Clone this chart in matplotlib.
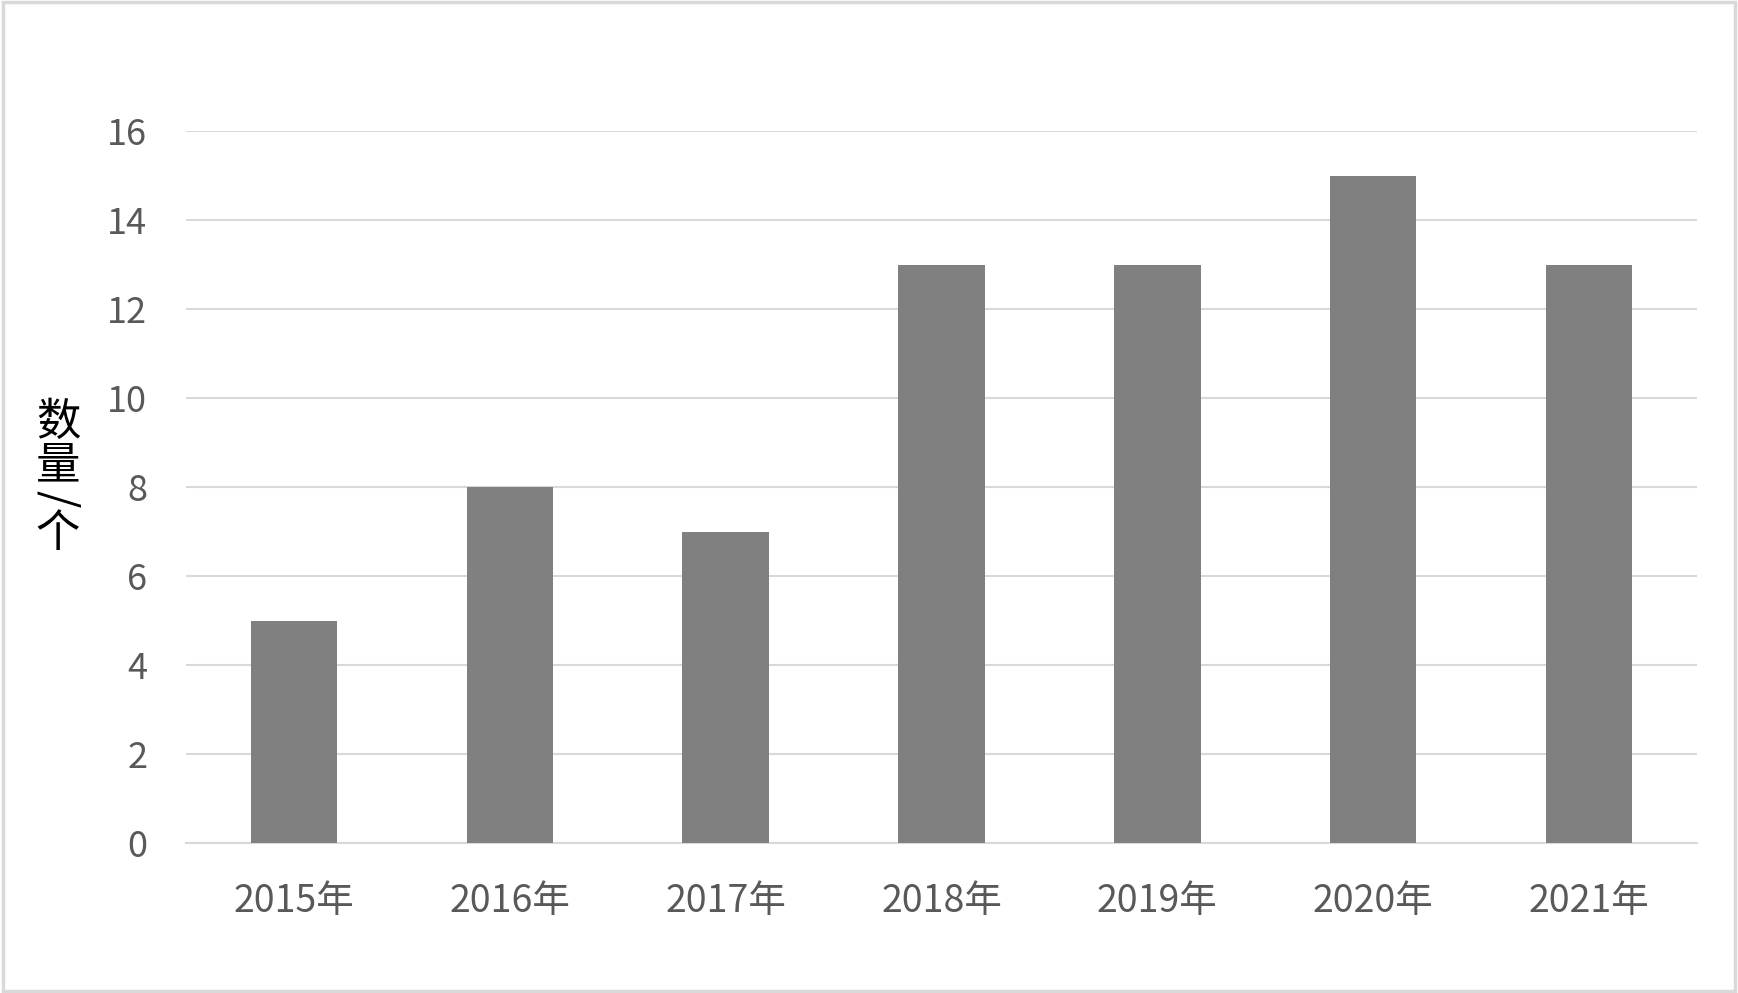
import matplotlib.pyplot as plt
from matplotlib.patches import Rectangle

plt.rcParams['font.family'] = ['Noto Sans CJK SC', 'DejaVu Sans']

years = ['2015年', '2016年', '2017年', '2018年', '2019年', '2020年', '2021年']
counts = [5, 8, 7, 13, 13, 15, 13]
yticks = [0, 2, 4, 6, 8, 10, 12, 14, 16]

fig = plt.figure(figsize=(17.38, 9.93), dpi=100)
ax = fig.add_axes([186 / 1738, 1 - 843 / 993, (1697 - 186) / 1738, (843 - 131) / 993])

x = range(len(years))
ax.bar(x, counts, width=0.4, color='#808080', zorder=3)

ax.set_xlim(-0.5, len(years) - 0.5)
ax.set_ylim(0, 16)
ax.set_yticks(yticks)
ax.set_xticks(list(x))
ax.set_xticklabels(years, fontsize=27)
ax.grid(True, axis='y', color='#d9d9d9', linewidth=1.5, zorder=0)
for s in ['top', 'right', 'left']:
    ax.spines[s].set_visible(False)
ax.spines['bottom'].set_color('#d9d9d9')
ax.spines['bottom'].set_linewidth(1.5)
ax.tick_params(axis='both', length=0, labelcolor='#595959')
ax.tick_params(axis='y', pad=28, labelsize=26)
ax.tick_params(axis='x', pad=28)

# stacked vertical y label
lx = 58 / 1738
for ch, py, rot in [('数', 422, 0), ('量', 465, 0), ('/', 499, -90), ('个', 533, 0)]:
    fig.text(lx, 1 - py / 993, ch, fontsize=32, color='black', ha='center', va='center', rotation=rot)

fig.patches.append(Rectangle((0.002, 0.002), 0.996, 0.996, transform=fig.transFigure,
                             fill=False, edgecolor='#d9d9d9', linewidth=2.5))

plt.savefig('out.png', dpi=100)
